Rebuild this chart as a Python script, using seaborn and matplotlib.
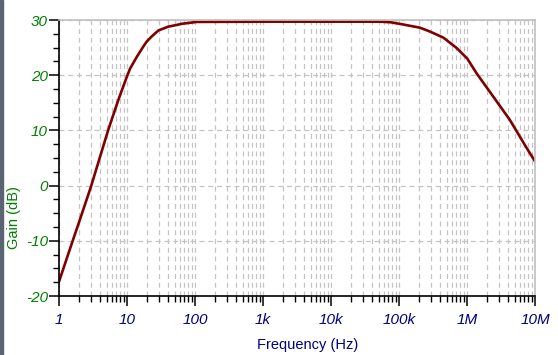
import numpy as np
import pandas as pd
import seaborn as sns
import matplotlib.pyplot as plt
from matplotlib.ticker import LogLocator, FixedLocator, MultipleLocator, NullFormatter
from matplotlib.patches import Rectangle

# gain curve (Hz, dB)
freq = [1, 1.57, 2, 2.95, 5.3, 7.45, 10, 11.1, 13.9, 17.4, 19.5, 23, 28.9, 40.5, 53.8, 63, 106,
        1e3, 1e4, 52e3, 74e3, 103e3, 145e3, 204e3, 286e3, 450e3, 708e3,
        1.01e6, 1.39e6, 2.44e6, 4.27e6, 7.55e6, 10e6]
gain = [-17.4, -10.2, -6.4, -0.2, 10.1, 15.5, 19.8, 21.2, 23.3, 25.2, 26.1, 27.0, 28.1, 28.8, 29.1, 29.3, 29.65,
        29.7, 29.7, 29.7, 29.6, 29.3, 28.95, 28.6, 27.9, 26.8, 24.9,
        23.0, 20.3, 16.1, 11.9, 6.8, 4.4]

xticks = [1, 10, 100, 1e3, 1e4, 1e5, 1e6, 1e7]
xticklabels = ['1', '10', '100', '1k', '10k', '100k', '1M', '10M']
yticks = [-20, -10, 0, 10, 20, 30]

df = pd.DataFrame({'Frequency': freq, 'Gain': gain})

sns.set_style('white')
plt.rcParams['font.family'] = ['Liberation Sans', 'DejaVu Sans']
plt.rcParams['axes.unicode_minus'] = False

fig = plt.figure(figsize=(5.58, 3.55), dpi=100)
ax = fig.add_axes([59 / 558, 59 / 355, 476 / 558, 276 / 355])

sns.lineplot(data=df, x='Frequency', y='Gain', ax=ax, color='#800000', linewidth=1.9)

ax.set_xscale('log')
ax.set_xlim(1, 1e7)
ax.set_ylim(-20, 30)

ax.xaxis.set_major_locator(FixedLocator(xticks))
ax.set_xticklabels(xticklabels)
ax.xaxis.set_minor_locator(LogLocator(base=10, subs=np.arange(2, 10), numticks=20))
ax.xaxis.set_minor_formatter(NullFormatter())
ax.yaxis.set_major_locator(FixedLocator(yticks))
ax.yaxis.set_minor_locator(MultipleLocator(2.5))

# grid
ax.grid(True, which='major', axis='both', color='#c4c4c4', linestyle=(0, (4, 3)), linewidth=0.9)
ax.grid(True, which='minor', axis='x', color='#c4c4c4', linestyle=(0, (4, 3)), linewidth=0.9)
ax.set_axisbelow(True)

for s in ['top', 'right']:
    ax.spines[s].set_color('#c0c0c0')
    ax.spines[s].set_linewidth(1.2)
for s in ['left', 'bottom']:
    ax.spines[s].set_color('black')
    ax.spines[s].set_linewidth(1.2)

ax.tick_params(axis='both', which='major', direction='out', length=7, width=1.1, color='black',
               left=True, bottom=True)
ax.tick_params(axis='both', which='minor', direction='out', length=4, width=1.0, color='black',
               left=True, bottom=True)
ax.tick_params(axis='y', which='major', pad=1, labelsize=11, labelcolor='#008000')
ax.tick_params(axis='x', which='major', pad=5, labelsize=11, labelcolor='#000080')
for lab in ax.get_xticklabels() + ax.get_yticklabels():
    lab.set_fontstyle('italic')

ax.set_xlabel('Frequency (Hz)', color='#000080', fontsize=10.5)
ax.set_ylabel('Gain (dB)', color='#008000', fontsize=10.5)
ax.xaxis.set_label_coords(0.523, -0.152)
ax.yaxis.set_label_coords(-0.080, 0.286)

# dark strip along the left edge of the screenshot
fig.patches.append(Rectangle((0, 0), 3 / 558, 1, transform=fig.transFigure,
                             color='#5a6472', zorder=0))

fig.savefig('out.png', dpi=100)
